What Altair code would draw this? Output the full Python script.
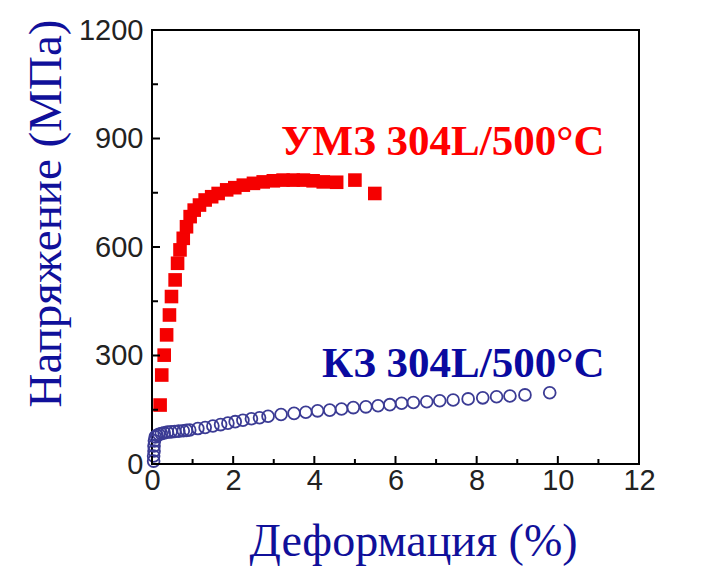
import altair as alt
import pandas as pd

# --- data ---
red_x = [0.20, 0.24, 0.30, 0.36, 0.43, 0.48, 0.57, 0.63, 0.69, 0.77, 0.85, 0.94,
         1.04, 1.17, 1.31, 1.47, 1.63, 1.84, 2.04, 2.25, 2.50, 2.74, 2.99, 3.23,
         3.48, 3.73, 3.97, 4.22, 4.55, 5.00, 5.49]
red_y = [163, 246, 301, 357, 412, 463, 509, 555, 592, 624, 656, 684,
         702, 716, 730, 739, 748, 758, 764, 771, 776, 780, 783, 785,
         785, 785, 783, 780, 779, 785, 748]

blue_x = [0.04, 0.04, 0.05, 0.05, 0.06, 0.08, 0.12, 0.17, 0.23, 0.30, 0.38, 0.47,
          0.56, 0.66, 0.77, 0.85, 0.93, 1.13, 1.31, 1.50, 1.69, 1.87, 2.05, 2.24,
          2.45, 2.65, 2.86, 3.18, 3.50, 3.79, 4.08, 4.38, 4.67, 4.96, 5.27, 5.57,
          5.86, 6.15, 6.44, 6.77, 7.09, 7.42, 7.79, 8.15, 8.49, 8.82, 9.19, 9.80]
blue_y = [8, 22, 36, 50, 64, 75, 79, 82, 84, 86, 88, 89,
          90, 91, 92, 93, 94, 98, 101, 105, 109, 113, 117, 121,
          125, 128, 132, 137, 140, 143, 147, 149, 152, 156, 158, 161,
          164, 168, 170, 172, 175, 177, 180, 183, 186, 188, 191, 197]

x_ticks_major = [0, 2, 4, 6, 8, 10, 12]
x_ticks_minor = [1, 3, 5, 7, 9, 11]
y_ticks_major = [0, 300, 600, 900, 1200]
y_ticks_minor = [150, 450, 750, 1050]

labels = ["УМЗ 304L/500°C", "КЗ 304L/500°C"]
label_x = [11.15, 11.15]
label_y = [854, 240]
label_colors = ["#ff0000", "#0a0aa0"]

NAVY = "#10109a"
W, H = 487, 434

red_df = pd.DataFrame({"x": red_x, "y": red_y})
blue_df = pd.DataFrame({"x": blue_x, "y": blue_y})
lab_df = pd.DataFrame({"x": label_x, "y": label_y, "t": labels, "c": label_colors})

xs = alt.Scale(domain=[0, 12], nice=False, zero=False)
ys = alt.Scale(domain=[0, 1200], nice=False, zero=False)

x_axis = alt.Axis(
    values=x_ticks_major, format="d", grid=False, ticks=False, domain=False,
    labelFont="Liberation Sans", labelFontSize=29, labelColor="#222222",
    labelPadding=2, labelFlush=False,
    title="Деформация (%)", titleFont="Liberation Serif", titleFontSize=46,
    titleFontWeight="normal", titleColor=NAVY, titleX=261, titleY=91,
    titleAlign="center", titleBaseline="alphabetic",
)
y_axis = alt.Axis(
    values=y_ticks_major, format="d", grid=False, ticks=False, domain=False,
    labelFont="Liberation Sans", labelFontSize=29, labelColor="#222222",
    labelPadding=9, labelFlush=False,
    title="Напряжение (МПа)", titleFont="Liberation Serif", titleFontSize=47,
    titleFontWeight="normal", titleColor=NAVY, titleAngle=270,
    titleX=-92, titleY=183, titleAlign="center", titleBaseline="alphabetic",
)

X = lambda f: alt.X(f, scale=xs, axis=x_axis)
Y = lambda f: alt.Y(f, scale=ys, axis=y_axis)

blue = alt.Chart(blue_df).mark_point(
    shape="circle", filled=False, size=140, strokeWidth=1.8, color="#3b3b94", opacity=1
).encode(x=X("x:Q"), y=Y("y:Q"))

red = alt.Chart(red_df).mark_point(
    shape="square", filled=True, size=185, color="#f50000", opacity=1
).encode(x=X("x:Q"), y=Y("y:Q"))

xt_major = alt.Chart(pd.DataFrame({"x": x_ticks_major})).mark_rule(
    color="black", strokeWidth=2
).encode(x=X("x:Q"), y=alt.value(H), y2=alt.value(H - 8))
xt_minor = alt.Chart(pd.DataFrame({"x": x_ticks_minor})).mark_rule(
    color="black", strokeWidth=2
).encode(x=X("x:Q"), y=alt.value(H), y2=alt.value(H - 5))
yt_major = alt.Chart(pd.DataFrame({"y": y_ticks_major})).mark_rule(
    color="black", strokeWidth=2
).encode(y=Y("y:Q"), x=alt.value(0), x2=alt.value(8))
yt_minor = alt.Chart(pd.DataFrame({"y": y_ticks_minor})).mark_rule(
    color="black", strokeWidth=2
).encode(y=Y("y:Q"), x=alt.value(0), x2=alt.value(6))

text = alt.Chart(lab_df).mark_text(
    font="Liberation Serif", fontSize=43, fontWeight="bold",
    align="right", baseline="alphabetic"
).encode(
    x=X("x:Q"),
    y=Y("y:Q"),
    text="t:N",
    color=alt.Color("c:N", scale=None),
)

chart = alt.layer(blue, red, xt_major, xt_minor, yt_major, yt_minor, text).properties(
    width=W, height=H,
    autosize=alt.AutoSizeParams(type="none"),
    padding={"left": 144, "top": 22, "right": 50, "bottom": 105},
).configure_view(stroke="black", strokeWidth=2)

chart.save("out.html", embed_options={"renderer": "svg", "actions": False})
